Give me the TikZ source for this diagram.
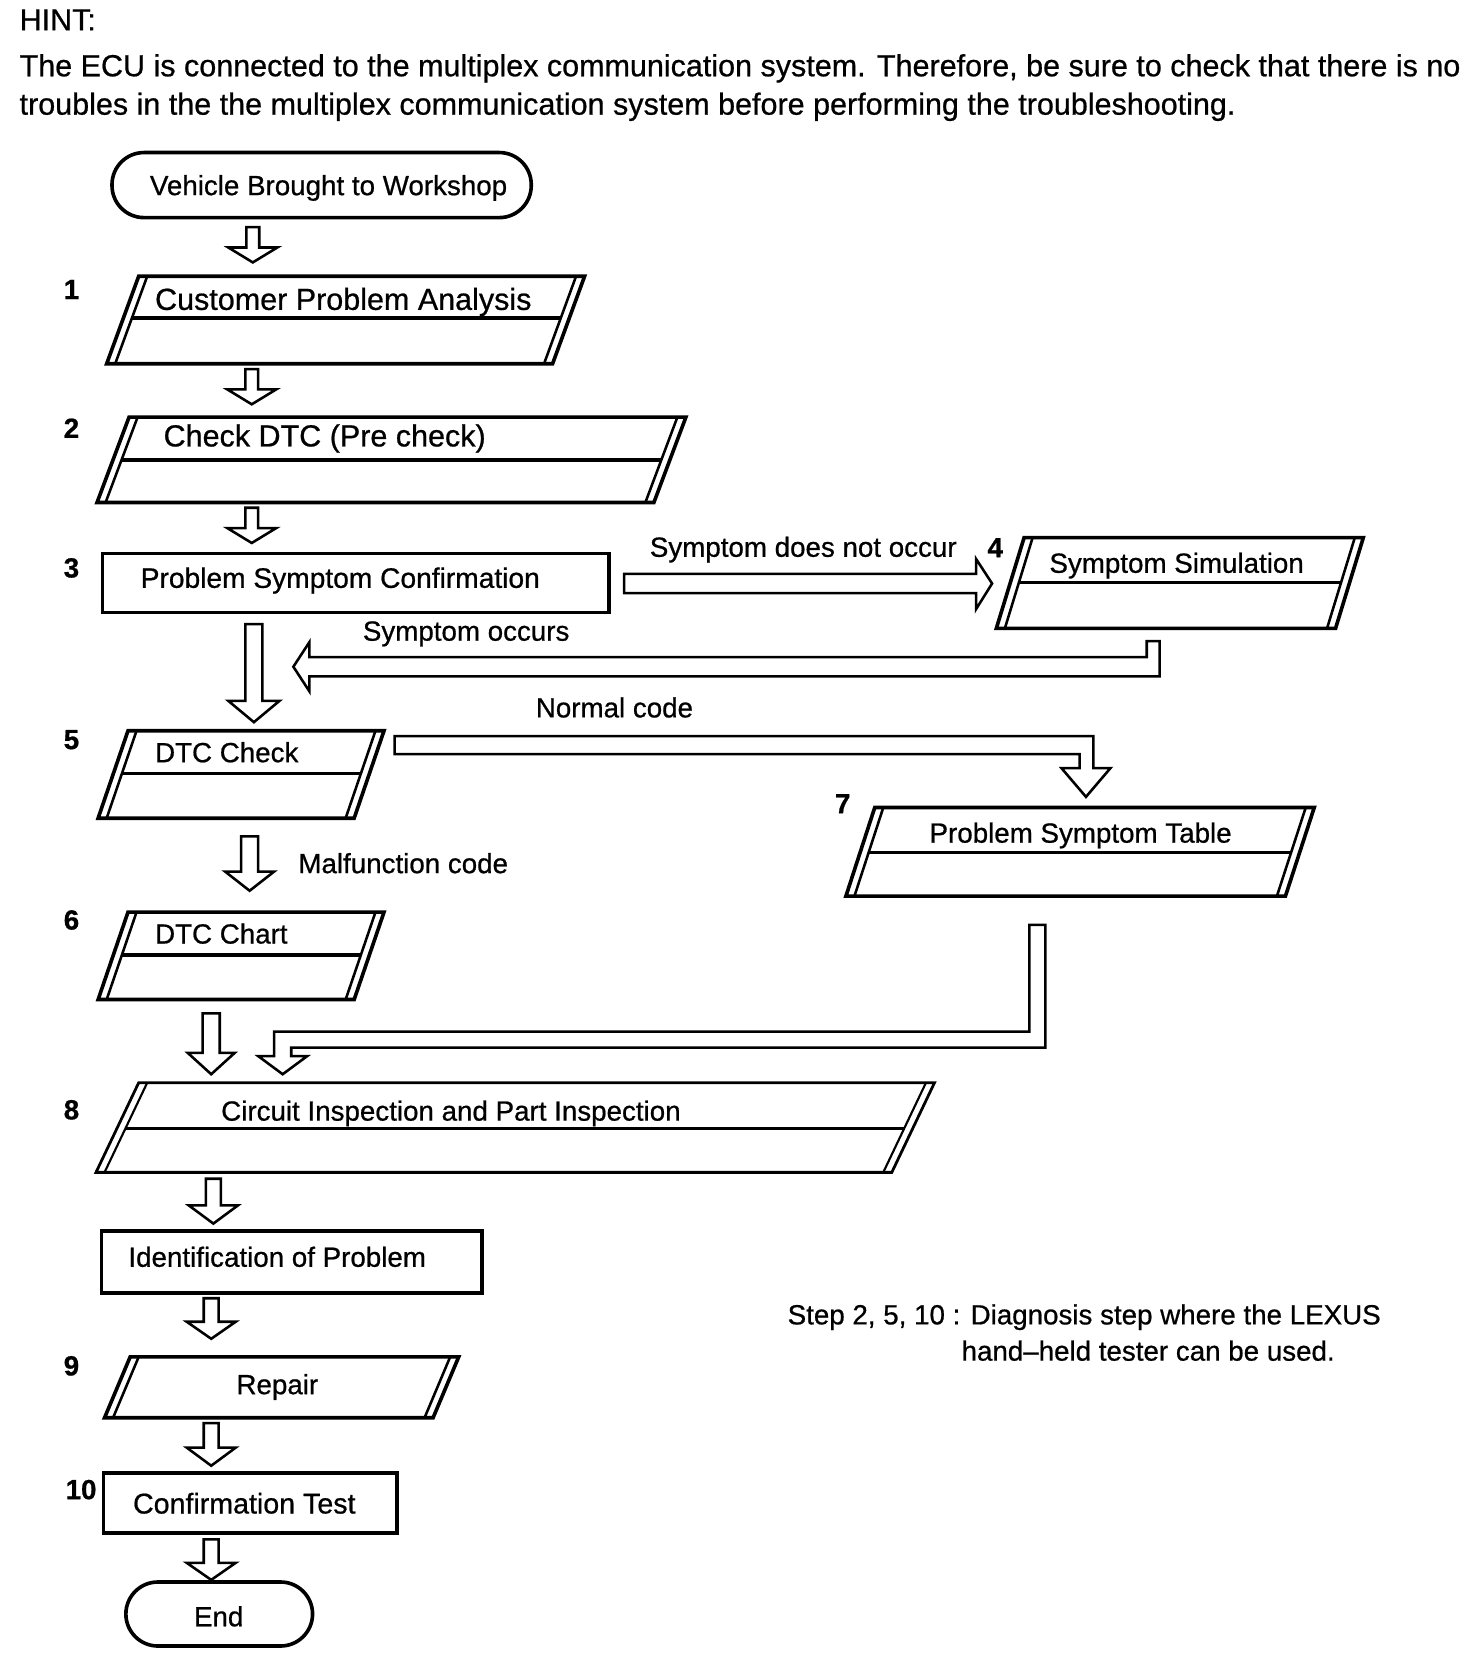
\documentclass[tikz,border=0pt]{standalone}
\usepackage{fontspec}
\setmainfont{Liberation Sans}[FakeBold=0.7]
\usetikzlibrary{calc}
\tikzset{
  ol/.style={line width=1.7pt, line join=miter},
  il/.style={line width=1.2pt},
  arr/.style={line width=1.2pt, fill=white, line join=miter},
  txt/.style={font=\fontsize{13}{15}\selectfont, inner sep=0pt, yshift=-1.6pt},
  big/.style={font=\fontsize{14.3}{17}\selectfont, inner sep=0pt, yshift=-1.6pt},
  num/.style={font=\fontsize{13}{15}\selectfont\bfseries, inner sep=0pt, yshift=-1.2pt}
}
% parallelogram with doubled slanted sides: topY, botY, topLeftX, topRightX, offset
\newcommand\PGram[5]{%
  \draw[ol] (#3,#1) -- (#4,#1) -- ({#4-#5},#2) -- ({#3-#5},#2) -- cycle;
  \draw[il] ({#3+8},#1) -- ({#3-#5+8},#2);
  \draw[il] ({#4-8},#1) -- ({#4-#5-8},#2);
}
% middle line: topY, botY, topLeftX, topRightX, offset, midY
\newcommand\PMid[6]{%
  \draw[ol] ({#3+8-#5*(#6-#1)/(#2-#1)},#6) -- ({#4-8-#5*(#6-#1)/(#2-#1)},#6);
}
% hollow down arrow: x, top, base, tip, bodyhalf, headhalf
\newcommand\DArr[6]{%
  \draw[arr] ({#1-#5},#2) -- ({#1+#5},#2) -- ({#1+#5},#3) -- ({#1+#6},#3) -- (#1,#4)
    -- ({#1-#6},#3) -- ({#1-#5},#3) -- cycle;
}
\begin{document}
\begin{tikzpicture}[x=0.5pt,y=-0.5pt]
\useasboundingbox (0,-2) rectangle (1380,1571);

% hint
\node[big, anchor=mid west] (hint) at (18,18) {HINT:};
\node[big, anchor=mid west] (h1) at (18,61) {The ECU is connected to the multiplex communication system. Therefore, be sure to check that there is no};
\node[big, anchor=mid west] (h2) at (18,97) {troubles in the the multiplex communication system before performing the troubleshooting.};

% start
\draw[ol, rounded corners=15pt] (105,141) rectangle (498,202);
\node[txt] (start) at (308,171) {Vehicle Brought to Workshop};

% step 1
\PGram{257}{339}{130}{548}{30}
\PMid{257}{339}{130}{548}{30}{296}
\node[big, anchor=mid west] (s1) at (145,280) {Customer Problem Analysis};
\node[num] (n1) at (67,267) {1};

% step 2
\PGram{389}{469}{121}{643}{30}
\PMid{389}{469}{121}{643}{30}{429}
\node[big, anchor=mid west] (s2) at (153,408) {Check DTC (Pre check)};
\node[num] (n2) at (67,397) {2};

% step 3
\draw[ol] (96,517) rectangle (571,572);
\node[font=\fontsize{13.2}{16}\selectfont, inner sep=0pt, yshift=-1.6pt] (s3) at (319,539) {Problem Symptom Confirmation};
\node[num] (n3) at (67,528) {3};

% step 4
\PGram{502}{587}{960}{1278}{26}
\PMid{502}{587}{960}{1278}{26}{544}
\node[txt] (s4) at (1103,525) {Symptom Simulation};
\node[num] (n4) at (933,509) {4};

% step 5
\PGram{683}{765}{120}{360}{28}
\PMid{683}{765}{120}{360}{28}{723}
\node[txt, anchor=mid west] (s5) at (145,704) {DTC Check};
\node[num] (n5) at (67,689) {5};

% step 6
\PGram{853}{935}{120}{360}{28}
\PMid{853}{935}{120}{360}{28}{893}
\node[txt, anchor=mid west] (s6) at (145,874) {DTC Chart};
\node[num] (n6) at (67,858) {6};

% step 7
\PGram{755}{838}{820}{1232}{27}
\PMid{755}{838}{820}{1232}{27}{797}
\node[txt] (s7) at (1013,778) {Problem Symptom Table};
\node[num] (n7) at (790,749) {7};

% step 8
\begin{scope}[ol/.append style={line width=1.3pt}, il/.append style={line width=1pt}]
\PGram{1013}{1097}{130}{876}{40}
\PMid{1013}{1097}{130}{876}{40}{1056}
\end{scope}
\node[txt, anchor=mid west] (s8) at (207,1040) {Circuit Inspection and Part Inspection};
\node[num] (n8) at (67,1036) {8};

% identification
\draw[ol] (95,1152) rectangle (452,1210);
\node[txt, anchor=mid west] (id) at (120,1177) {Identification of Problem};

% step 9
\PGram{1270}{1327}{122}{430}{24}
\node[txt] (s9) at (260,1295) {Repair};
\node[num] (n9) at (67,1276) {9};

% step 10
\draw[ol] (97,1379) rectangle (372,1435);
\node[font=\fontsize{13.4}{16}\selectfont, inner sep=0pt, yshift=-1.6pt] (s10) at (229,1404) {Confirmation Test};
\node[num] (n10) at (76,1392) {10};

% end
\draw[ol, rounded corners=15pt] (118,1481) rectangle (293,1541);
\node[txt] (end) at (205,1510) {End};

% vertical block arrows
\DArr{237}{211}{230}{244}{6}{23}
\DArr{236}{344}{363}{377}{6}{23}
\DArr{236}{474}{493}{507}{6}{23}
\DArr{238}{583}{655}{675}{8}{24}
\DArr{234}{782}{815}{833}{8}{23}
\DArr{198}{948}{985}{1005}{8}{22}
\DArr{200}{1103}{1128}{1145}{7}{23}
\DArr{198}{1215}{1237}{1253}{7}{23}
\DArr{198}{1332}{1355}{1372}{7}{23}
\DArr{198}{1441}{1463}{1479}{7}{23}

% symptom does not occur
\draw[arr] (585,536) -- (915,536) -- (915,522) -- (930,545) -- (915,569) -- (915,554) -- (585,554) -- cycle;
\node[txt] (l1) at (753,510) {Symptom does not occur};

% symptom occurs
\draw[arr] (1075,614) -- (1075,599) -- (1087,599) -- (1087,632) -- (290,632) -- (290,646)
  -- (275,623) -- (290,600) -- (290,614) -- cycle;
\node[txt] (l2) at (437,589) {Symptom occurs};

% normal code
\draw[arr] (370,688) -- (1025,688) -- (1025,718) -- (1041,718) -- (1018,745) -- (995,718)
  -- (1012,718) -- (1012,705) -- (370,705) -- cycle;
\node[txt] (l3) at (576,658) {Normal code};

% malfunction code
\node[txt] (l4) at (378,804) {Malfunction code};

% from problem symptom table to step 8
\draw[arr] (965,865) -- (980,865) -- (980,980) -- (273,980) -- (273,988) -- (288,988)
  -- (265,1005) -- (242,988) -- (257,988) -- (257,965) -- (965,965) -- cycle;

% footnote
\node[txt, anchor=mid west] (f1) at (738,1231) {Step 2, 5, 10 : Diagnosis step where the LEXUS};
\node[txt, anchor=mid west] (f2) at (901,1265) {hand--held tester can be used.};
\end{tikzpicture}
\end{document}
